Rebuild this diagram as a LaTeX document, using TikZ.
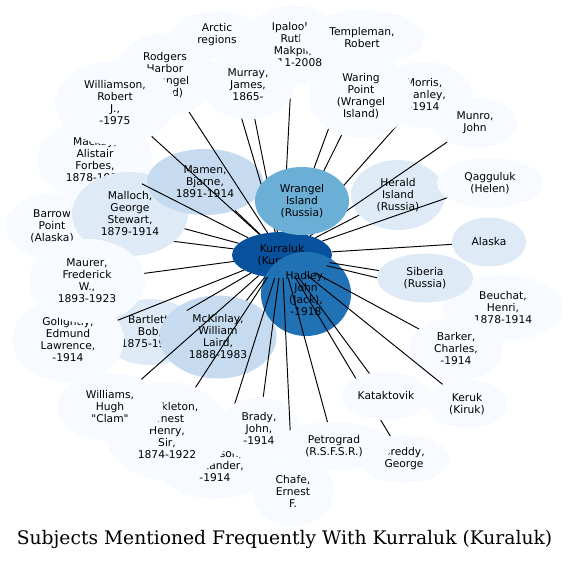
\documentclass[tikz,border=0pt]{standalone}
\usepackage{fontspec}
\newfontfamily\subjfont{DejaVu Sans}
\newfontfamily\titlefont{DejaVu Serif}
\usepackage{tikz}
\usetikzlibrary{shapes.geometric}
\definecolor{bluePale}{HTML}{F7FBFF}
\definecolor{blueLight}{HTML}{DEEBF7}
\definecolor{blueSoft}{HTML}{C6DBEF}
\definecolor{blueMid}{HTML}{6BAED6}
\definecolor{blueStrong}{HTML}{2171B5}
\definecolor{blueDeep}{HTML}{08519C}
\pgfdeclarelayer{canvas}
\pgfdeclarelayer{edgeback}
\pgfdeclarelayer{nodeback}
\pgfdeclarelayer{nodefront}
\pgfsetlayers{canvas,edgeback,nodeback,main,nodefront}

\begin{document}
\begin{tikzpicture}[x=1pt,y=-1pt,
  subj/.style={ellipse, inner sep=0pt, align=center,
    font=\subjfont\fontsize{10.7}{12}\selectfont},
  pale/.style={subj, fill=bluePale},
  light/.style={subj, fill=blueLight},
  soft/.style={subj, fill=blueSoft},
  link/.style={draw=black, line width=0.95pt}]
  \begin{pgfonlayer}{canvas}
    \fill[white] (0,0) rectangle (569,561);
  \end{pgfonlayer}
  \useasboundingbox (0,0) rectangle (569,561);

  % Subjects drawn below the links
  \begin{pgfonlayer}{nodeback}
    \node[pale, minimum width=96, minimum height=80] (ipalook) at (293,45) {Ipalook,\\Ruth\\Makpii,\\1911-2008};
    \node[pale, minimum width=124, minimum height=56] (templeman) at (362,38) {Templeman,\\Robert};
    \node[pale, minimum width=92, minimum height=48] (arctic) at (217,35) {Arctic\\regions};
    \node[pale, minimum width=100, minimum height=84] (rodgers) at (165,75) {Rodgers\\Harbor\\(Wrangel\\Island)};
    \node[pale, minimum width=96, minimum height=66] (morris) at (424,95) {Morris,\\Stanley,\\-1914};
    \node[pale, minimum width=84, minimum height=50] (munro) at (475,123) {Munro,\\John};
    \node[pale, minimum width=116, minimum height=80] (mackay) at (95,160) {Mackay,\\Alistair\\Forbes,\\1878-1914};
    \node[pale, minimum width=120, minimum height=84] (williamson) at (115,103) {Williamson,\\Robert\\J.,\\-1975};
    \node[pale, minimum width=92, minimum height=66] (barrow) at (52,226) {Barrow\\Point\\(Alaska)};
    \node[light, minimum width=116, minimum height=84] (malloch) at (130,214) {Malloch,\\George\\Stewart,\\1879-1914};
    \node[soft, minimum width=116, minimum height=66] (mamen) at (205,182) {Mamen,\\Bjarne,\\1891-1914};
    \node[light, minimum width=94, minimum height=70] (herald) at (398,195) {Herald\\Island\\(Russia)};
    \node[pale, minimum width=106, minimum height=50] (qagguluk) at (490,183) {Qagguluk\\(Helen)};
    \node[light, minimum width=74, minimum height=49] (alaska) at (489,242) {Alaska};
    \node[pale, minimum width=120, minimum height=66] (beuchat) at (503,308) {Beuchat,\\Henri,\\1878-1914};
    \node[pale, minimum width=94, minimum height=64] (barker) at (456,349) {Barker,\\Charles,\\-1914};
    \node[pale, minimum width=80, minimum height=49] (keruk) at (467,404) {Keruk\\(Kiruk)};
    \node[pale, minimum width=90, minimum height=48] (breddy) at (404,459) {Breddy,\\George};
    \node[light, minimum width=96, minimum height=66] (bartlett) at (150,332) {Bartlett,\\Bob,\\1875-1946};
    \node[pale, minimum width=112, minimum height=84] (golightly) at (68,340) {Golightly,\\Edmund\\Lawrence,\\-1914};
    \node[pale, minimum width=116, minimum height=84] (maurer) at (87,281) {Maurer,\\Frederick\\W.,\\1893-1923};
    \node[soft, minimum width=117, minimum height=83] (mckinlay) at (218,337) {McKinlay,\\William\\Laird,\\1888-1983};
    \node[subj, fill=blueDeep, minimum width=100, minimum height=46] (kur) at (282,255) {Kurraluk\\(Kuraluk)};
    \node[subj, fill=blueStrong, minimum width=90, minimum height=84] (hadley) at (306,294) {Hadley,\\John\\(Jack),\\-1918};
    \node[pale, minimum width=112, minimum height=66] (anderson) at (215,466) {Anderson,\\Alexander,\\-1914};
    \node[pale, minimum width=124, minimum height=98] (shackleton) at (167,431) {Shackleton,\\Ernest\\Henry,\\Sir,\\1874-1922};
    \node[pale, minimum width=106, minimum height=68] (williams) at (110,407) {Williams,\\Hugh\\"Clam"};
    \node[pale, minimum width=82, minimum height=70] (chafe) at (293,491) {Chafe,\\Ernest\\F.};
  \end{pgfonlayer}

  % Subjects drawn above the links
  \begin{pgfonlayer}{nodefront}
    \node[pale, minimum width=92, minimum height=68] (murray) at (248,85) {Murray,\\James,\\1865-};
    \node[pale, minimum width=104, minimum height=84] (waring) at (361,96) {Waring\\Point\\(Wrangel\\Island)};
    \node[subj, fill=blueMid, minimum width=94, minimum height=68] (wrangel) at (302,201) {Wrangel\\Island\\(Russia)};
    \node[light, minimum width=96, minimum height=49] (siberia) at (425,278) {Siberia\\(Russia)};
    \node[pale, minimum width=88, minimum height=48] (kataktovik) at (386,396) {Kataktovik};
    \node[pale, minimum width=80, minimum height=64] (brady) at (259,429) {Brady,\\John,\\-1914};
    \draw[link] (kur) -- (chafe);
    \node[pale, minimum width=116, minimum height=48] (petrograd) at (334,446) {Petrograd\\(R.S.F.S.R.)};
  \end{pgfonlayer}

  % Links from Kurraluk
  \begin{pgfonlayer}{edgeback}
    \foreach \subj in {hadley,barrow}
      \draw[link] (kur) -- (\subj);
  \end{pgfonlayer}
  \foreach \subj in {ipalook,templeman,arctic,rodgers,morris,munro,mackay,williamson,
      mamen,herald,qagguluk,alaska,beuchat,barker,keruk,breddy,bartlett,
      golightly,maurer,mckinlay,anderson,shackleton,williams,murray,waring,
      wrangel,malloch,siberia,kataktovik,brady,petrograd}
    \draw[link] (kur) -- (\subj);

  \node[font=\titlefont\fontsize{18.7}{22}\selectfont] (title) at (284.5,539) {Subjects Mentioned Frequently With Kurraluk (Kuraluk)};
\end{tikzpicture}
\end{document}
